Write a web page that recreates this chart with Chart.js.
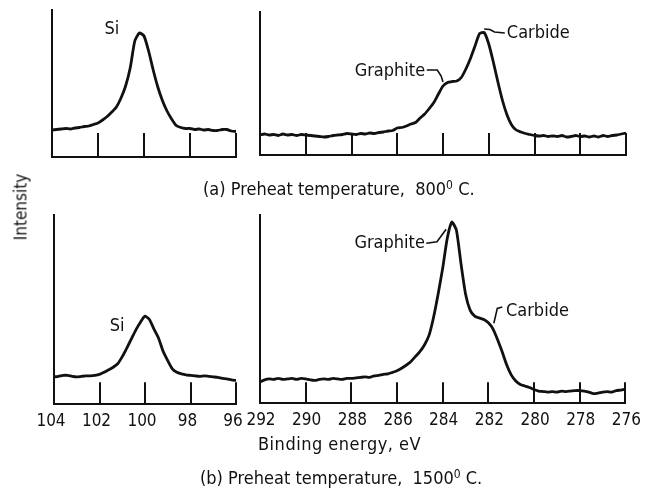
<!DOCTYPE html>
<html>
<head>
<meta charset="utf-8">
<script src="https://cdn.jsdelivr.net/npm/chart.js@4.4.1/dist/chart.umd.min.js"></script>
<style>
  html, body { margin: 0; padding: 0; background: #fff; }
  #wrap { position: relative; width: 647px; height: 491px; overflow: hidden; }
  #wrap canvas { position: absolute; left: 0; top: 0; }
  .txt { position: absolute; color: #111; white-space: nowrap; line-height: 1;
         font-family: "Liberation Sans Narrow", "DejaVu Sans Condensed", sans-serif; }
  .txt sup { font-size: 12px; vertical-align: 6px; }
</style>
</head>
<body>
<div id="wrap">
  <canvas id="siA" width="647" height="491"></canvas>
  <canvas id="cA" width="647" height="491"></canvas>
  <canvas id="siB" width="647" height="491"></canvas>
  <canvas id="cB" width="647" height="491"></canvas>
  <div class="txt" style="left:203px; top:179px; font-size:18px;">(a) Preheat temperature,&nbsp; 800<sup>0</sup> C.</div>
  <div class="txt" style="left:200px; top:468px; font-size:18px;">(b) Preheat temperature,&nbsp; 1500<sup>0</sup> C.</div>
  <div class="txt" style="left:258px; top:435px; font-size:18px; letter-spacing:0.5px;">Binding energy, eV</div>
  <div class="txt" style="left:21px; top:207px; font-size:17px; transform: translate(-50%, -50%) rotate(-90deg);">Intensity</div>
</div>

<script>
// Binding energy grids (eV)
const siEnergy = [
  104.0, 103.8, 103.6, 103.4, 103.2, 103.0, 102.8, 102.6, 102.4, 102.2,
  102.0, 101.8, 101.6, 101.4, 101.2, 101.0, 100.8, 100.6, 100.4, 100.2,
  100.0, 99.8, 99.6, 99.4, 99.2, 99.0, 98.8, 98.6, 98.4, 98.2,
  98.0, 97.8, 97.6, 97.4, 97.2, 97.0, 96.8, 96.6, 96.4, 96.2,
  96.0
];
const cEnergy = [
  292.0, 291.8, 291.6, 291.4, 291.2, 291.0, 290.8, 290.6, 290.4, 290.2,
  290.0, 289.8, 289.6, 289.4, 289.2, 289.0, 288.8, 288.6, 288.4, 288.2,
  288.0, 287.8, 287.6, 287.4, 287.2, 287.0, 286.8, 286.6, 286.4, 286.2,
  286.0, 285.8, 285.6, 285.4, 285.2, 285.0, 284.8, 284.6, 284.4, 284.2,
  284.0, 283.8, 283.6, 283.4, 283.2, 283.0, 282.8, 282.6, 282.4, 282.2,
  282.0, 281.8, 281.6, 281.4, 281.2, 281.0, 280.8, 280.6, 280.4, 280.2,
  280.0, 279.8, 279.6, 279.4, 279.2, 279.0, 278.8, 278.6, 278.4, 278.2,
  278.0, 277.8, 277.6, 277.4, 277.2, 277.0, 276.8, 276.6, 276.4, 276.2,
  276.0
];

// Intensities (arbitrary units)
const siA = [
  27, 27.5, 28, 28.5, 28, 29, 29.5, 30.5, 31, 32.5,
  34, 37, 40.5, 45, 50, 59, 71, 89, 116, 124,
  121, 106, 87, 70, 56.5, 46, 38, 31.5, 29.5, 28.5,
  28.5, 27.5, 28, 27, 27.5, 26.5, 26.5, 27.5, 27.5, 26,
  25.5
];
const cA = [
  20, 21, 20, 20.5, 19.5, 21, 20, 20.5, 19.5, 20.5,
  20, 19.5, 19, 18.5, 18, 18.5, 19.5, 20, 20.5, 21.5,
  21, 20.5, 21.5, 21, 22, 21.5, 22.5, 23, 24, 24.5,
  27, 27.5, 29, 31, 32.5, 37, 41, 46.5, 52.5, 61,
  69, 72.5, 73.5, 74, 77.5, 86, 96.5, 109, 121.5, 122.5,
  111, 93, 73, 54.5, 40, 30, 25, 23, 21.5, 20.5,
  19.5, 19, 19.5, 18.5, 19, 18.5, 19.5, 18, 18.5, 19.5,
  18.5, 19, 18, 19, 18, 19.5, 18.5, 19.5, 20, 21,
  22
];
const siB = [
  27, 27.5, 28.5, 28.5, 27.5, 27, 27.5, 28, 28, 28.5,
  29.5, 31.5, 34, 36.5, 40, 47, 55.5, 64.5, 73.5, 81,
  87, 83.5, 74, 65, 52, 43, 35, 31.5, 30, 29,
  28.5, 28, 27.5, 28, 27.5, 27, 26.5, 25.5, 25, 24,
  23.5
];
const cB = [
  21, 23, 24, 23.5, 24.5, 23.5, 24, 24.5, 23.5, 24.5,
  24, 23, 22.5, 23.5, 24, 23.5, 24.5, 24, 23.5, 24.5,
  24.5, 25, 25.5, 26, 25.5, 27, 27.5, 28.5, 29, 30.5,
  32, 34.5, 37.5, 41, 46, 51, 57.5, 67, 85, 108,
  133.5, 163, 179, 171, 138, 108, 92, 86, 84.3, 82.7,
  79.5, 73.5, 63, 51, 38, 28, 22, 18.5, 17, 15.5,
  13.5, 12, 11.5, 11, 11.5, 11, 12, 11.5, 12, 12.5,
  12.5, 12, 11, 9.5, 10, 11, 11.5, 11, 12.5, 13,
  14
];

const ink = '#111';
const fontFamily = '"Liberation Sans Narrow", "DejaVu Sans Condensed", sans-serif';
const labelFont = '18px ' + fontFamily;

// Short tick marks standing up from the bottom axis
function innerTicks(len) {
  return {
    id: 'innerTicks',
    afterDraw(chart) {
      const { ctx, chartArea, scales: { x } } = chart;
      ctx.save();
      ctx.strokeStyle = ink;
      ctx.lineWidth = 2;
      x.ticks.forEach(t => {
        const px = Math.round(x.getPixelForValue(t.value));
        ctx.beginPath();
        ctx.moveTo(px, chartArea.bottom);
        ctx.lineTo(px, chartArea.bottom - len);
        ctx.stroke();
      });
      ctx.restore();
    }
  };
}

// Peak names with their leader lines (positions in eV / intensity)
function peakLabels(items) {
  return {
    id: 'peakLabels',
    afterDraw(chart) {
      const { ctx, scales: { x, y } } = chart;
      ctx.save();
      ctx.fillStyle = ink;
      ctx.strokeStyle = ink;
      ctx.font = labelFont;
      ctx.textBaseline = 'middle';
      items.forEach(it => {
        ctx.textAlign = it.align || 'center';
        ctx.fillText(it.text, x.getPixelForValue(it.at[0]), y.getPixelForValue(it.at[1]));
        if (it.leader) {
          ctx.lineWidth = 1.6;
          ctx.beginPath();
          it.leader.forEach((p, i) => {
            const px = x.getPixelForValue(p[0]), py = y.getPixelForValue(p[1]);
            if (i === 0) ctx.moveTo(px, py); else ctx.lineTo(px, py);
          });
          ctx.stroke();
        }
      });
      ctx.restore();
    }
  };
}

// area = [left, top, right, bottom] of the plot box on the page
function createPanel(canvasId, energies, values, xMin, xMax, area, opts) {
  const [L, T, R, B] = area;
  const withLabels = opts.labels;
  // room the tick labels take below the axis (measured from a render)
  const tickH = withLabels ? 36.6 : 0;

  new Chart(document.getElementById(canvasId), {
    type: 'line',
    data: {
      datasets: [{
        data: energies.map((e, i) => ({ x: e, y: values[i] })),
        borderColor: ink,
        borderWidth: 2.8,
        pointRadius: 0,
        tension: 0.2,
        fill: false
      }]
    },
    options: {
      responsive: false,
      animation: false,
      events: [],
      layout: { padding: { left: L, top: T, right: 647 - R, bottom: 491 - B - tickH } },
      plugins: { legend: { display: false }, tooltip: { enabled: false } },
      scales: {
        x: {
          type: 'linear',
          reverse: true,
          min: xMin,
          max: xMax,
          grid: { display: false, drawTicks: false },
          border: { display: true, color: ink, width: 2 },
          ticks: {
            display: withLabels,
            stepSize: 2,
            padding: 7,
            labelOffset: opts.labelShift || 0,
            color: ink,
            font: { family: fontFamily, size: 17, lineHeight: 1.2 }
          }
        },
        y: {
          min: 0,
          max: B - T,
          grid: { display: false, drawTicks: false },
          ticks: { display: false },
          border: { display: true, color: ink, width: 2 }
        }
      }
    },
    plugins: [innerTicks(opts.tickLen), peakLabels(opts.notes)]
  });
}

createPanel('siA', siEnergy, siA, 96, 104, [52, 10, 236, 157], {
  labels: false, tickLen: 24,
  notes: [{ text: 'Si', at: [101.4, 128] }]
});

createPanel('cA', cEnergy, cA, 276, 292, [260, 12, 626, 155], {
  labels: false, tickLen: 22,
  notes: [
    { text: 'Graphite', align: 'right', at: [284.78, 84],
      leader: [[284.71, 85], [284.25, 85], [284.08, 79], [284.0, 73]] },
    { text: 'Carbide', align: 'left', at: [281.21, 122],
      leader: [[282.2, 126], [281.95, 125.5], [281.75, 123], [281.3, 122]] }
  ]
});

createPanel('siB', siEnergy, siB, 96, 104, [54, 215, 236, 402], {
  labels: true, tickLen: 22, labelShift: -3,
  notes: [{ text: 'Si', at: [101.23, 77] }]
});

createPanel('cB', cEnergy, cB, 276, 292, [260, 215, 627, 401], {
  labels: true, tickLen: 21, labelShift: 1,
  notes: [
    { text: 'Graphite', align: 'right', at: [284.78, 158],
      leader: [[284.72, 158], [284.25, 159.5], [283.85, 172]] },
    { text: 'Carbide', align: 'left', at: [281.23, 91],
      leader: [[281.39, 95], [281.61, 93.7], [281.76, 79]] }
  ]
});
</script>
</body>
</html>
